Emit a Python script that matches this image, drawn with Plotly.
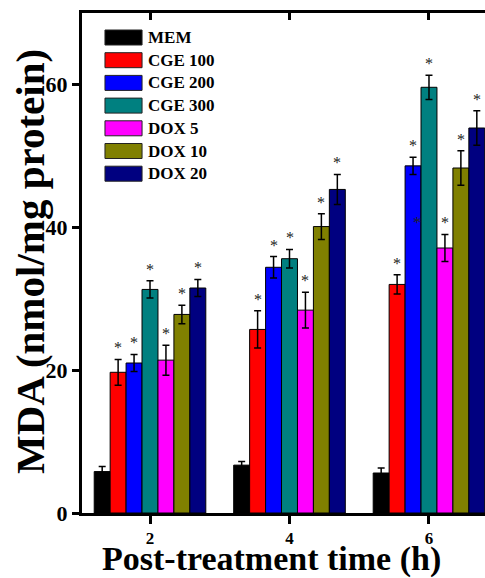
import plotly.graph_objects as go

# Post-treatment time points (h)
times = [2, 4, 6]

# Treatment groups and their fill colours
groups = ["MEM", "CGE 100", "CGE 200", "CGE 300", "DOX 5", "DOX 10", "DOX 20"]
colors = ["#000000", "#FF0000", "#0000FF", "#008080", "#FF00FF", "#808000", "#000080"]

# MDA level (nmol/mg protein), one list per group over the time points
mem = [5.8, 6.7, 5.6]
cge100 = [19.7, 25.7, 32.0]
cge200 = [21.0, 34.4, 48.6]
cge300 = [31.3, 35.6, 59.6]
dox5 = [21.4, 28.4, 37.1]
dox10 = [27.8, 40.1, 48.3]
dox20 = [31.5, 45.3, 53.9]

# Standard deviations
mem_sd = [0.7, 0.5, 0.7]
cge100_sd = [1.8, 2.6, 1.35]
cge200_sd = [1.2, 1.5, 1.2]
cge300_sd = [1.2, 1.3, 1.7]
dox5_sd = [2.1, 2.5, 1.9]
dox10_sd = [1.3, 1.8, 2.4]
dox20_sd = [1.2, 2.1, 2.4]

# Significance flags (* vs. MEM control)
significant = [False, True, True, True, True, True, True]

values = [mem, cge100, cge200, cge300, dox5, dox10, dox20]
errors = [mem_sd, cge100_sd, cge200_sd, cge300_sd, dox5_sd, dox10_sd, dox20_sd]

FONT = "Liberation Serif"
STAR = dict(family=FONT, size=16, color="#222222")
BAR_GAP = 0.2
slot = 2 * (1 - BAR_GAP) / len(groups)   # width of one bar in x units

fig = go.Figure()

for i, (name, vals, errs, col) in enumerate(zip(groups, values, errors, colors)):
    fig.add_trace(go.Bar(
        x=times, y=vals, name=name,
        marker=dict(color=col, line=dict(color="#000000", width=1)),
        error_y=dict(type="data", array=errs, visible=True,
                     color="#000000", thickness=1.5, width=3.5),
        showlegend=False,
    ))

# carrier trace for the top (mirrored) axis
fig.add_trace(go.Scatter(x=times, y=[None] * 3, xaxis="x2", mode="lines",
                         showlegend=False, hoverinfo="skip"))

annotations = []

# significance asterisks above the error bars
for i, (vals, errs, sig) in enumerate(zip(values, errors, significant)):
    if not sig:
        continue
    off = (i - (len(groups) - 1) / 2) * slot
    for t, v, e in zip(times, vals, errs):
        annotations.append(dict(xref="x", yref="y", x=t + off, y=v + e,
                                text="*", showarrow=False,
                                xanchor="center", yanchor="bottom", yshift=1,
                                font=STAR))

# extra asterisk drawn over the CGE 200 bar at 6 h
annotations.append(dict(xref="x", yref="y", x=5.83, y=39.0, text="*",
                        showarrow=False, xanchor="center", yanchor="bottom",
                        yshift=1, font=STAR))

# hand-drawn legend block in the upper-left corner
shapes = []
x0, x1, xt = 0.057, 0.149, 0.160
top, step, h = 0.966, 0.0454, 0.030
for i, (name, col) in enumerate(zip(groups, colors)):
    yt = top - i * step
    shapes.append(dict(type="rect", xref="paper", yref="paper",
                       x0=x0, x1=x1, y0=yt - h, y1=yt,
                       fillcolor=col, line=dict(color="#222222", width=1)))
    annotations.append(dict(xref="paper", yref="paper", x=xt, y=yt - h / 2,
                            text=f"<b>{name}</b>", showarrow=False,
                            xanchor="left", yanchor="middle",
                            font=dict(family=FONT, size=17, color="#000000")))

# axis titles
annotations.append(dict(xref="paper", yref="paper", x=0.471, y=-0.133,
                        text="<b>Post-treatment time (h)</b>", showarrow=False,
                        xanchor="center", yanchor="bottom",
                        font=dict(family=FONT, size=34, color="#000000")))
annotations.append(dict(xref="paper", yref="paper", x=-0.129, y=0.502,
                        text="<b>MDA (nmol/mg protein)</b>", showarrow=False,
                        textangle=-90, xanchor="center", yanchor="middle",
                        font=dict(family=FONT, size=41, color="#000000")))

fig.update_layout(
    width=485, height=578,
    margin=dict(l=82, r=0, t=13, b=65),
    paper_bgcolor="white", plot_bgcolor="white",
    barmode="group", bargap=BAR_GAP, bargroupgap=0,
    shapes=shapes, annotations=annotations,
    xaxis=dict(range=[1.025, 6.803], tickvals=times,
               ticktext=[f"<b>{t}</b>" for t in times],
               ticks="outside", ticklen=8, tickwidth=3, tickcolor="#000000",
               showline=True, linewidth=3, linecolor="#000000",
               showgrid=False, zeroline=False,
               tickfont=dict(family=FONT, size=17, color="#000000")),
    xaxis2=dict(overlaying="x", side="top", matches="x", range=[1.025, 6.803],
                tickvals=times, showticklabels=False,
                ticks="inside", ticklen=7, tickwidth=3, tickcolor="#000000",
                showline=True, linewidth=3, linecolor="#000000",
                showgrid=False, zeroline=False),
    yaxis=dict(range=[0, 70], tickvals=[0, 20, 40, 60],
               ticktext=["<b>0</b>", "<b>20</b>", "<b>40</b>", "<b>60</b>"],
               ticks="outside", ticklen=7, tickwidth=3, tickcolor="#000000",
               showline=True, linewidth=3, linecolor="#000000",
               showgrid=False, zeroline=False,
               tickfont=dict(family=FONT, size=22, color="#000000")),
)

fig.write_html("out.html")
